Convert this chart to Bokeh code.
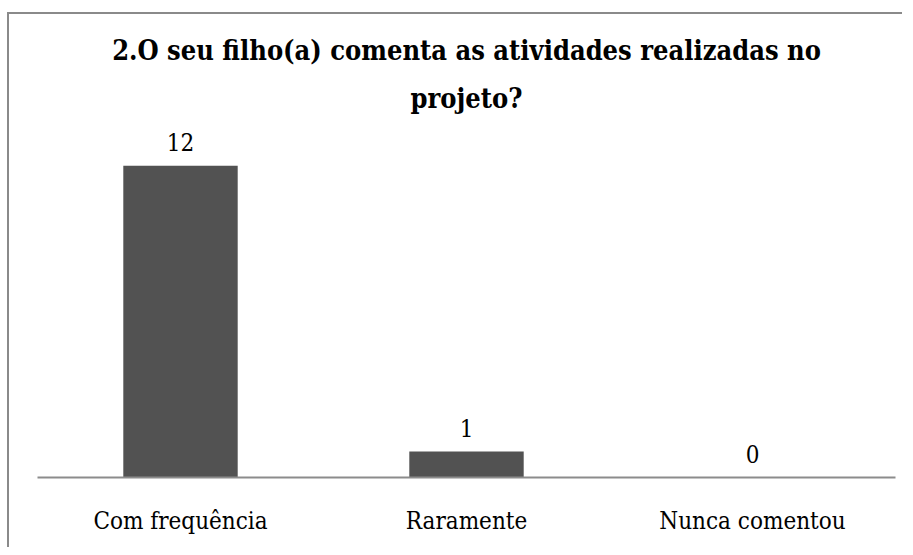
from bokeh.plotting import figure
from bokeh.models import Range1d, ColumnDataSource, Title
from bokeh.core.properties import value
from bokeh.embed import file_html
from bokeh.resources import INLINE

categories = ["Com frequência", "Raramente", "Nunca comentou"]
counts = [12, 1, 0]
labels = ["12", "1", "0"]
title_lines = ["2.O seu filho(a) comenta as atividades realizadas no", "projeto?"]

SERIF = "DejaVu Serif Condensed"

src = ColumnDataSource(dict(cat=categories, val=counts, lab=labels))

p = figure(x_range=categories, y_range=Range1d(0, 13.4), title=None,
           width=895, height=535, output_backend="svg", toolbar_location=None,
           min_border_left=28, min_border_right=9, min_border_bottom=72, min_border_top=115)

# second line nearest to the frame, first line above it
for i, line in enumerate(reversed(title_lines)):
    t = Title(text=line, align="center", text_font=SERIF, text_font_style="bold",
              text_font_size="27px", text_color="#000000",
              standoff=31 if i == 0 else 0, offset=0)
    p.add_layout(t, "above")

p.vbar(x="cat", top="val", width=0.40, source=src, fill_color="#525252", line_color=None)
p.text(x="cat", y="val", text="lab", source=src, text_align="center", text_baseline="alphabetic",
       y_offset=-24, text_font=value(SERIF), text_font_size="24px", text_color="#000000")

p.yaxis.visible = False
p.xgrid.grid_line_color = None
p.ygrid.grid_line_color = None
p.outline_line_color = None
p.xaxis.axis_line_color = "#8c8c8c"
p.xaxis.axis_line_width = 2
p.xaxis.major_tick_line_color = None
p.xaxis.minor_tick_line_color = None
p.xaxis.major_label_text_font = SERIF
p.xaxis.major_label_text_font_size = "24px"
p.xaxis.major_label_text_color = "#000000"
p.xaxis.major_label_standoff = 23
p.x_range.range_padding = 0
p.styles = {"border-top": "2px solid #8a8a8a", "border-left": "2px solid #8a8a8a",
            "margin-top": "12px", "margin-left": "7px"}

open("out.html", "w").write(file_html(p, INLINE))
